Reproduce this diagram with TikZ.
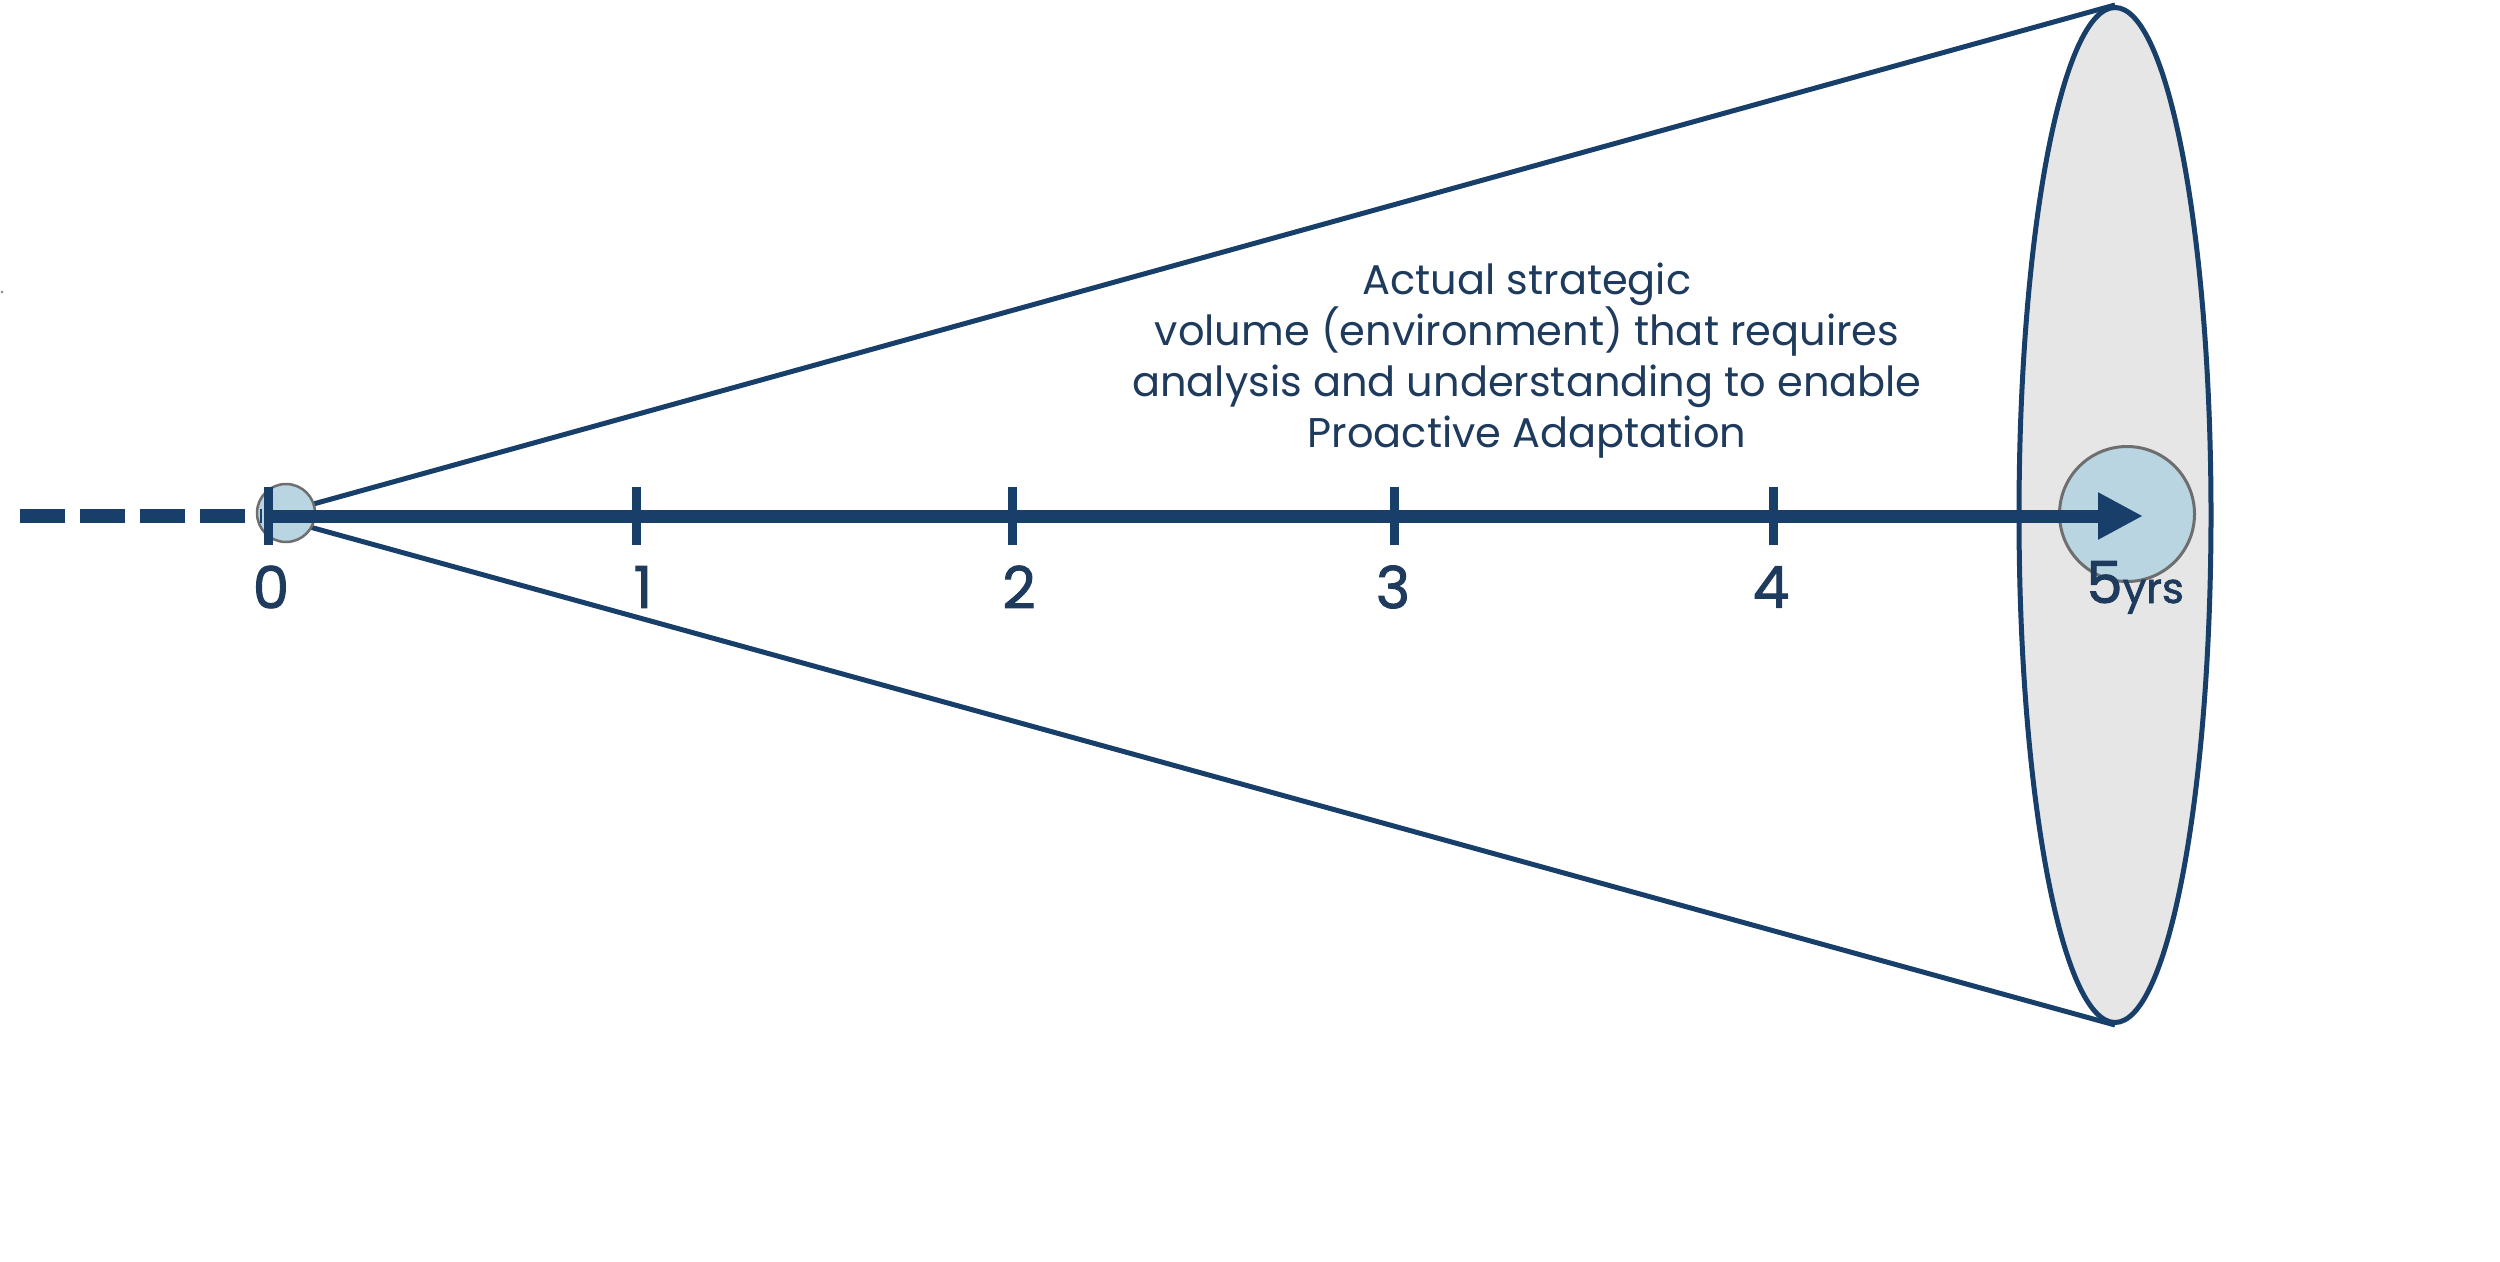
\documentclass[tikz,border=0pt]{standalone}
\usepackage{fontspec}
\setmainfont{Poppins}
\newfontfamily\digitfont[FakeBold=1.6]{Poppins}
\usetikzlibrary{arrows.meta,shapes.geometric}
\definecolor{navy}{HTML}{173F69}
\definecolor{txt}{HTML}{1E3A5C}
\definecolor{lblue}{HTML}{B8D5E1}
\definecolor{cgray}{HTML}{6E6E6E}
\definecolor{discgray}{HTML}{E6E6E6}
\begin{document}
\begin{tikzpicture}[x=1pt,y=-1pt,
  axisline/.style={draw=navy, line width=13pt},
  dashline/.style={draw=navy, line width=14pt, dash pattern=on 45pt off 15pt},
  conel/.style={draw=navy, line width=5pt},
  tickmark/.style={draw=navy, line width=9pt},
  ticklabel/.style={text=txt, font=\digitfont\fontsize{58}{60}\selectfont, inner sep=0pt},
  marker/.style={circle, draw=cgray, fill=lblue, inner sep=0pt},
  disc/.style={ellipse, draw=navy, fill=discgray, line width=5pt, inner sep=0pt}]
\useasboundingbox (0,0) rectangle (2500,1261);
\fill[gray] (2,292) circle (1.3pt);
% disc at 5 years
\node[disc, minimum width=192pt, minimum height=1015pt] (disc) at (2115,515) {};
% apex
\coordinate (apex) at (270,516);
\coordinate (dstart) at (20,516);
\coordinate (dend) at (262,516);
\coordinate (tip) at (2143,516);
% cone
\draw[conel] (apex) -- (disc.north);
\draw[conel] (apex) -- (disc.south);
% markers
\node[marker, line width=2.5pt, minimum size=58pt] (c0) at (286,513) {};
\node[marker, line width=3pt, minimum size=135pt] (c5) at (2127,514) {};
% dashed past
\draw[dashline] (dstart) -- (dend);
% axis
\draw[axisline, -{Triangle[length=45pt,width=44pt]}] (apex) -- (tip);
% ticks and labels
\foreach \x/\lx/\n in {268/271/0, 636/643/1, 1012/1019/2, 1394/1393/3, 1773/1771/4}{
  \coordinate (ta\n) at (\x,487);
  \coordinate (tb\n) at (\x,545);
  \draw[tickmark] (ta\n) -- (tb\n);
  \node[ticklabel] (l\n) at (\lx,587) {\n};
}
\node[ticklabel, anchor=base west] (l5) at (2086,603) {5\fontsize{42}{44}\selectfont yrs};
% description
\node[text=txt, align=center, font=\fontsize{41.5}{51}\selectfont, inner sep=0pt] (desc) at (1527,361)
  {Actual strategic\\ volume (environment) that requires\\ analysis and understanding to enable\\ Proactive Adaptation};
\end{tikzpicture}
\end{document}
